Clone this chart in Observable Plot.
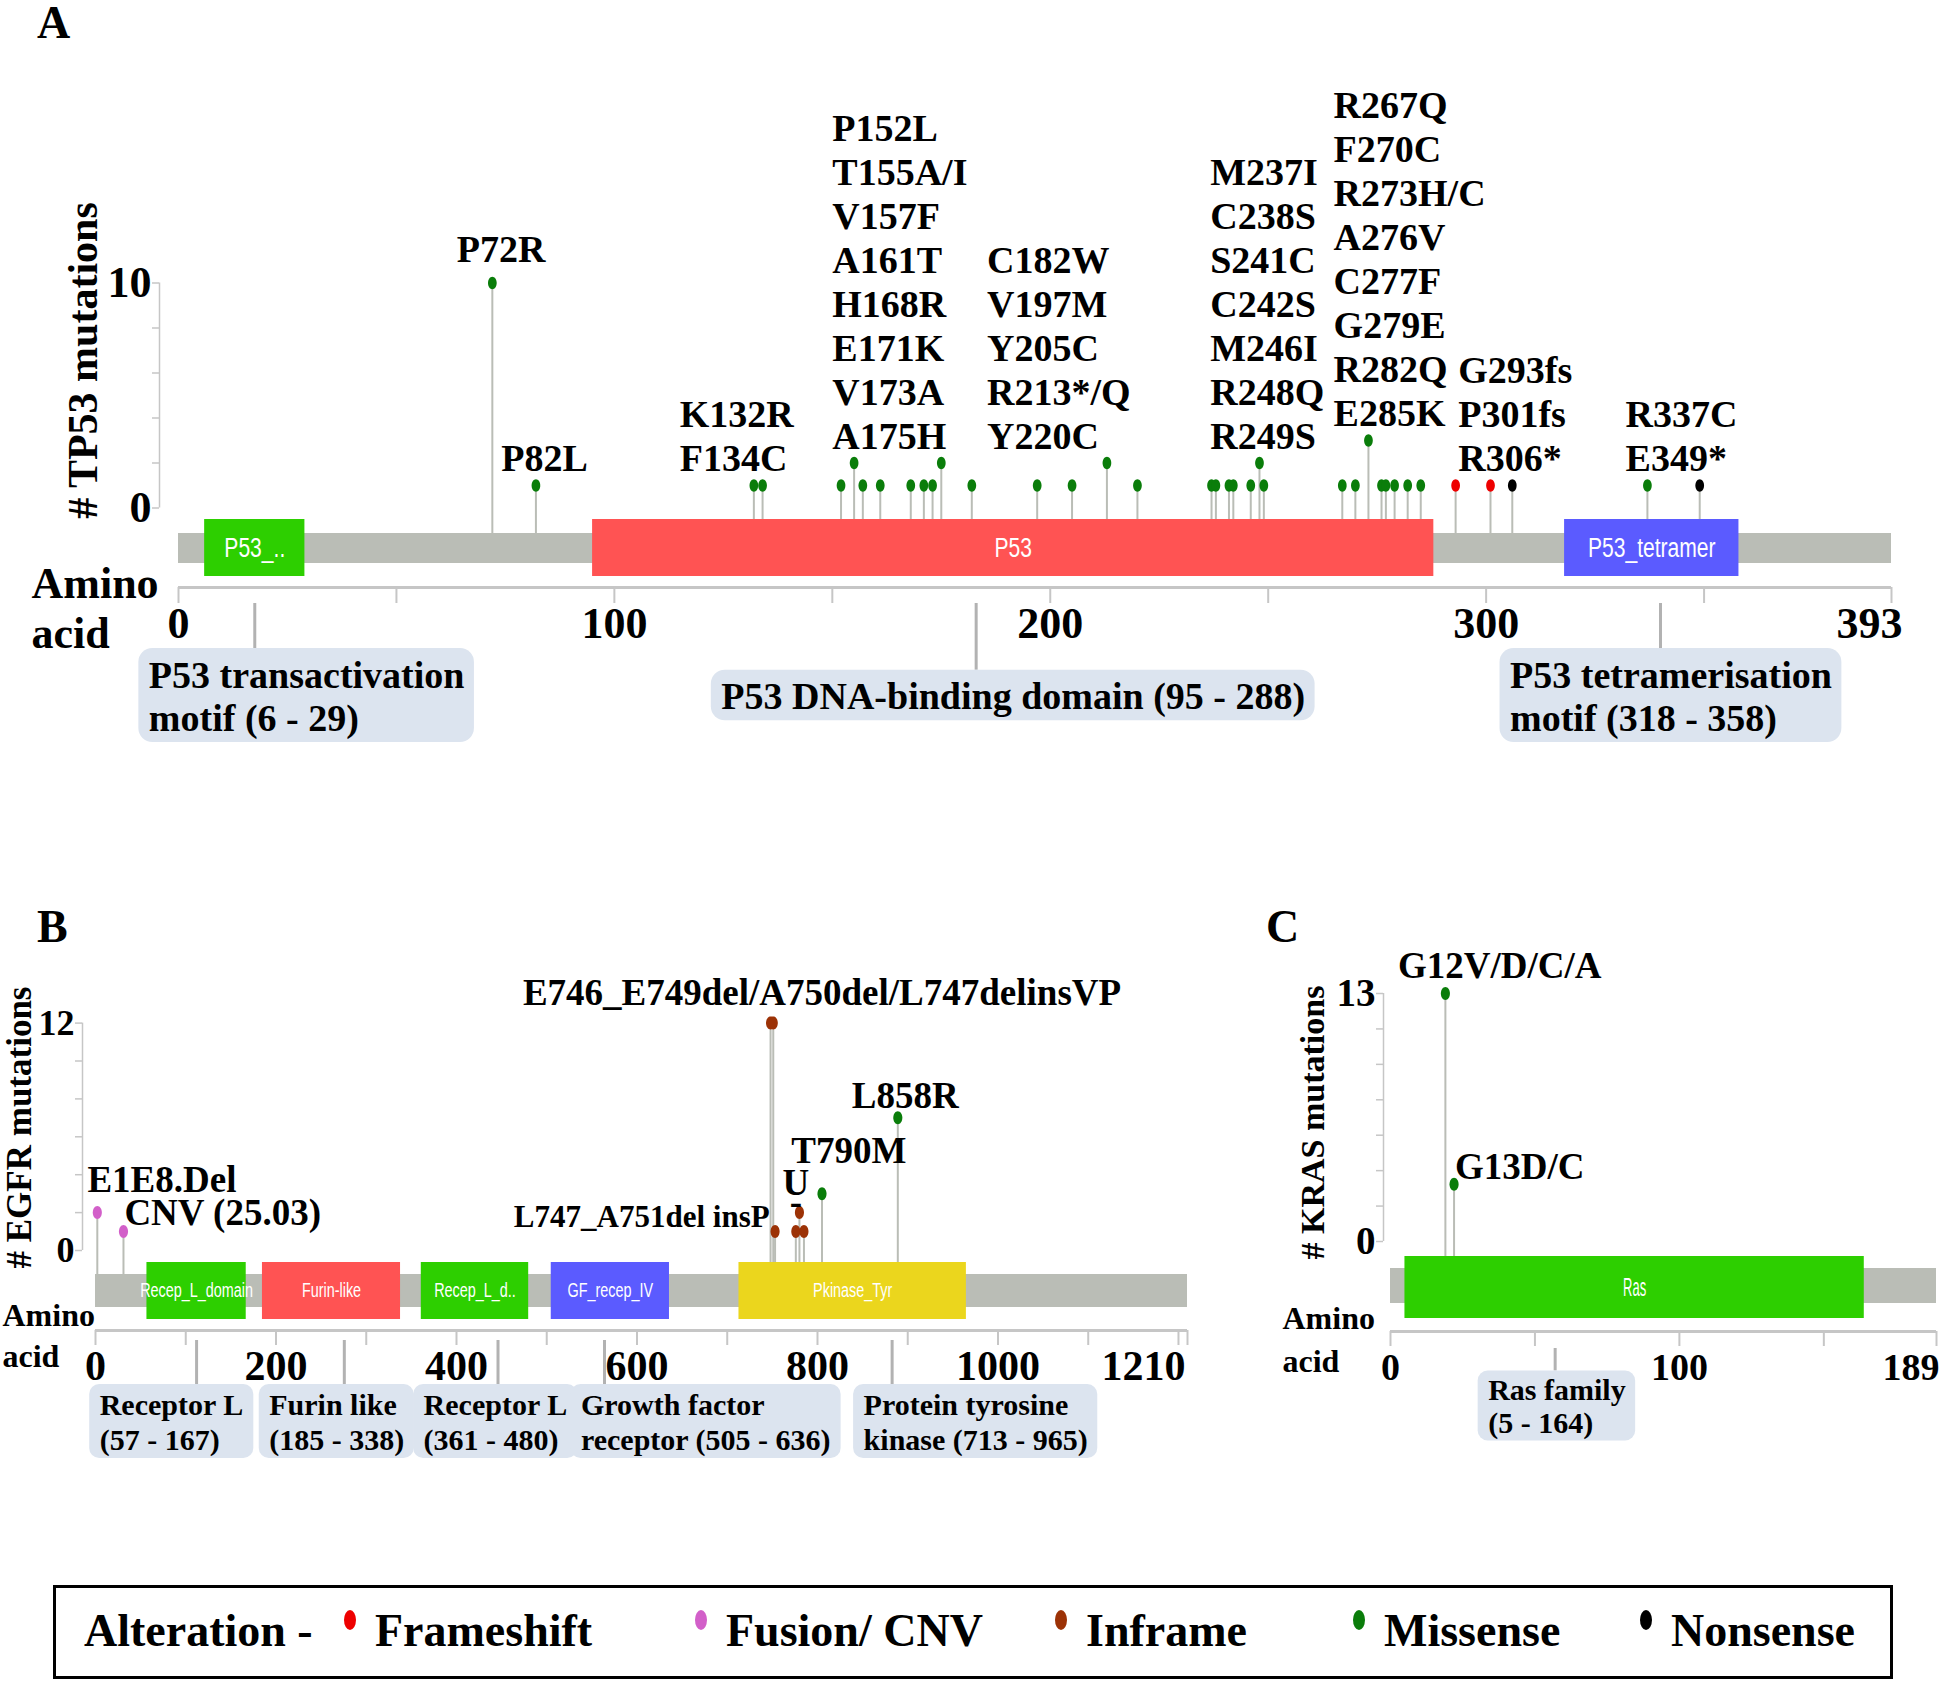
<!DOCTYPE html>
<html><head><meta charset="utf-8">
<script src="https://cdn.jsdelivr.net/npm/d3@7"></script>
<script src="https://cdn.jsdelivr.net/npm/@observablehq/plot@0.6"></script>
<style>
html,body{margin:0;padding:0;background:#fff;}
#root{position:relative;width:1946px;height:1683px;overflow:hidden;background:#fff;
  font-family:"Liberation Serif","Times New Roman",serif;font-weight:bold;color:#000;}
.panel{position:absolute;}
.letter{position:absolute;font-size:46px;line-height:46px;}
#legend{position:absolute;left:53px;top:1585px;width:1840px;height:94px;box-sizing:border-box;border:3px solid #000;}
#legend span{position:absolute;white-space:nowrap;font-size:46px;line-height:46px;}
#legend i{position:absolute;width:12px;height:20px;border-radius:50%;}
</style>
</head><body><div id="root"></div>
<script>
// ---------------- DATA ----------------
const alterationTypes = ["Frameshift", "Fusion/ CNV", "Inframe", "Missense", "Nonsense"];

// TP53 (393 aa)
const tp53Length = 393;
const tp53Domains = [
  {name: "P53_..", start: 6, end: 29},
  {name: "P53", start: 95, end: 288},
  {name: "P53_tetramer", start: 318, end: 358}
];
const tp53Mutations = [
  {pos: 72, count: 10, type: "Missense"}, {pos: 82, count: 1, type: "Missense"},
  {pos: 132, count: 1, type: "Missense"}, {pos: 134, count: 1, type: "Missense"},
  {pos: 152, count: 1, type: "Missense"}, {pos: 155, count: 2, type: "Missense"},
  {pos: 157, count: 1, type: "Missense"}, {pos: 161, count: 1, type: "Missense"},
  {pos: 168, count: 1, type: "Missense"}, {pos: 171, count: 1, type: "Missense"},
  {pos: 173, count: 1, type: "Missense"}, {pos: 175, count: 2, type: "Missense"},
  {pos: 182, count: 1, type: "Missense"}, {pos: 197, count: 1, type: "Missense"},
  {pos: 205, count: 1, type: "Missense"}, {pos: 213, count: 2, type: "Missense"},
  {pos: 220, count: 1, type: "Missense"}, {pos: 237, count: 1, type: "Missense"},
  {pos: 238, count: 1, type: "Missense"}, {pos: 241, count: 1, type: "Missense"},
  {pos: 242, count: 1, type: "Missense"}, {pos: 246, count: 1, type: "Missense"},
  {pos: 248, count: 2, type: "Missense"}, {pos: 249, count: 1, type: "Missense"},
  {pos: 267, count: 1, type: "Missense"}, {pos: 270, count: 1, type: "Missense"},
  {pos: 273, count: 3, type: "Missense"}, {pos: 276, count: 1, type: "Missense"},
  {pos: 277, count: 1, type: "Missense"}, {pos: 279, count: 1, type: "Missense"},
  {pos: 282, count: 1, type: "Missense"}, {pos: 285, count: 1, type: "Missense"},
  {pos: 293, count: 1, type: "Frameshift"}, {pos: 301, count: 1, type: "Frameshift"},
  {pos: 306, count: 1, type: "Nonsense"}, {pos: 337, count: 1, type: "Missense"},
  {pos: 349, count: 1, type: "Nonsense"}
];
const tp53Labels = [
  {lines: ["P72R"], at: 74, anchor: "middle", span: [72, 72]},
  {lines: ["P82L"], at: 84, anchor: "middle", span: [82, 82]},
  {lines: ["K132R", "F134C"], at: 115, anchor: "start", span: [132, 134]},
  {lines: ["P152L", "T155A/I", "V157F", "A161T", "H168R", "E171K", "V173A", "A175H"], at: 150, anchor: "start", span: [152, 175]},
  {lines: ["C182W", "V197M", "Y205C", "R213*/Q", "Y220C"], at: 185.5, anchor: "start", span: [182, 220]},
  {lines: ["M237I", "C238S", "S241C", "C242S", "M246I", "R248Q", "R249S"], at: 236.7, anchor: "start", span: [237, 249]},
  {lines: ["R267Q", "F270C", "R273H/C", "A276V", "C277F", "G279E", "R282Q", "E285K"], at: 265, anchor: "start", span: [267, 285]},
  {lines: ["G293fs", "P301fs", "R306*"], at: 293.6, anchor: "start", span: [293, 306]},
  {lines: ["R337C", "E349*"], at: 332, anchor: "start", span: [337, 349]}
];
const tp53Annotations = [
  {lines: ["P53 transactivation", "motif (6 - 29)"], center: 29.4, link: 17.5},
  {lines: ["P53 DNA-binding domain (95 - 288)"], center: 191.5, link: 183},
  {lines: ["P53 tetramerisation", "motif (318 - 358)"], center: 342.4, link: 340}
];
const tp53XLabels = [0, 100, 200, 300, 393];
const tp53XTicks = [0, 50, 100, 150, 200, 250, 300, 350, 393];
const tp53YTicks = [0, 2, 4, 6, 8, 10];

// EGFR (1210 aa)
const egfrLength = 1210;
const egfrDomains = [
  {name: "Recep_L_domain", start: 57, end: 167},
  {name: "Furin-like", start: 185, end: 338},
  {name: "Recep_L_d..", start: 361, end: 480},
  {name: "GF_recep_IV", start: 505, end: 636},
  {name: "Pkinase_Tyr", start: 713, end: 965}
];
const egfrMutations = [
  {pos: 2, count: 2, type: "Fusion/ CNV"}, {pos: 31, count: 1, type: "Fusion/ CNV"},
  {pos: 748, count: 12, type: "Inframe"}, {pos: 751, count: 12, type: "Inframe"},
  {pos: 753, count: 1, type: "Inframe"}, {pos: 776, count: 1, type: "Inframe"},
  {pos: 780, count: 2, type: "Inframe"}, {pos: 785, count: 1, type: "Inframe"},
  {pos: 805, count: 3, type: "Missense"}, {pos: 889, count: 7, type: "Missense"}
];
const egfrLabels = [
  {lines: ["E1E8.Del"], at: -9, anchor: "start", span: [2, 2]},
  {lines: ["CNV (25.03)"], at: 32, anchor: "start", span: [31, 31]},
  {lines: ["E746_E749del/A750del/L747delinsVP"], at: 805, anchor: "middle", span: [748, 751]},
  {lines: ["L747_A751del insP"], at: 747, anchor: "end", span: [753, 753]},
  {lines: ["U"], at: 776, anchor: "middle", span: [776, 785]},
  {lines: ["-"], at: 776, anchor: "middle", span: [776, 785]},
  {lines: ["T790M"], at: 771, anchor: "start", span: [805, 805]},
  {lines: ["L858R"], at: 838, anchor: "start", span: [889, 889]}
];
const egfrAnnotations = [
  {lines: ["Receptor L", "(57 - 167)"], center: 84.5, link: 112},
  {lines: ["Furin like", "(185 - 338)"], center: 267.3, link: 275.7},
  {lines: ["Receptor L", "(361 - 480)"], center: 443.4, link: 446},
  {lines: ["Growth factor", "receptor (505 - 636)"], center: 676.5, link: 564},
  {lines: ["Protein tyrosine", "kinase (713 - 965)"], center: 975.3, link: 882.7}
];
const egfrXLabels = [0, 200, 400, 600, 800, 1000, 1210];
const egfrXTicks = [0, 100, 200, 300, 400, 500, 600, 700, 800, 900, 1000, 1100, 1200, 1210];
const egfrYTicks = [0, 2, 4, 6, 8, 10, 12];

// KRAS (189 aa)
const krasLength = 189;
const krasDomains = [{name: "Ras", start: 5, end: 164}];
const krasMutations = [
  {pos: 19, count: 13, type: "Missense"}, {pos: 22, count: 3, type: "Missense"}
];
const krasLabels = [
  {lines: ["G12V/D/C/A"], at: 2.6, anchor: "start", span: [19, 19]},
  {lines: ["G13D/C"], at: 22.3, anchor: "start", span: [22, 22]}
];
const krasAnnotations = [{lines: ["Ras family", "(5 - 164)"], center: 57.6, link: 57}];
const krasXLabels = [0, 100, 189];
const krasXTicks = [0, 50, 100, 150, 189];
const krasYTicks = [0, 13 / 7, 26 / 7, 39 / 7, 52 / 7, 65 / 7, 78 / 7, 13];

// ---------------- STYLES ----------------
const typeColor = {"Frameshift": "#ee0000", "Fusion/ CNV": "#d25fc9", "Inframe": "#9c3206", "Missense": "#0a7d0a", "Nonsense": "#000000"};
const domainFill = {
  "P53_..": "#2dcf00", "P53": "#ff5353", "P53_tetramer": "#5b5bff",
  "Recep_L_domain": "#2dcf00", "Furin-like": "#ff5353", "Recep_L_d..": "#2dcf00",
  "GF_recep_IV": "#5b5bff", "Pkinase_Tyr": "#ebd61d", "Ras": "#2dcf00"
};
const SERIF = "Liberation Serif, Times New Roman, serif";
const SANS = "Liberation Sans, Arial, sans-serif";
const GRAY = "#babdb6";
const AXIS = "#c6c6c6";

const ellipse = {
  draw(ctx, size) {
    const ry = Math.sqrt(size / Math.PI), rx = ry * 0.7, k = 0.5523;
    ctx.moveTo(rx, 0);
    ctx.bezierCurveTo(rx, ry * k, rx * k, ry, 0, ry);
    ctx.bezierCurveTo(-rx * k, ry, -rx, ry * k, -rx, 0);
    ctx.bezierCurveTo(-rx, -ry * k, -rx * k, -ry, 0, -ry);
    ctx.bezierCurveTo(rx * k, -ry, rx, -ry * k, rx, 0);
    ctx.closePath();
  }
};
const measureCtx = document.createElement("canvas").getContext("2d");

// ---------------- PANEL ----------------
function drawPanel(P) {
  const xr = P.xRange.map(v => v - P.left);
  const y0 = P.y0 - P.top, yTop = P.yTop - P.top;
  const xs = d3.scaleLinear([0, P.len], xr);
  const ys = d3.scaleLinear([0, P.yMax], [y0, yTop]);
  const X = gx => xs.invert(gx - P.left);      // global px -> aa
  const Yg = gy => ys.invert(gy - P.top);      // global px -> count
  const Yo = off => ys.invert(y0 + off);       // offset below zero -> count
  const T = (extra) => ({fontFamily: SERIF, fontWeight: "bold", fill: "#000", ...extra});
  const marks = [];

  // protein backbone, stems, domains
  marks.push(Plot.rect([0], {x1: 0, x2: P.len, y1: Yo(P.gray[0]), y2: Yo(P.gray[1]), fill: GRAY}));
  marks.push(Plot.ruleX(P.muts, {x: "pos", y1: Yo(P.gray[0]), y2: "count", stroke: GRAY, strokeWidth: 2}));
  marks.push(Plot.rect(P.domains, {x1: "start", x2: "end", y1: Yo(P.dom[0]), y2: Yo(P.dom[1]), fill: d => domainFill[d.name]}));
  marks.push(Plot.text(P.domains, {x: d => (d.start + d.end) / 2, y: Yo((P.dom[0] + P.dom[1]) / 2), text: "name",
    fill: "white", fontSize: P.domFont, fontFamily: SANS, fontWeight: "normal", ariaDescription: "domain-label"}));
  marks.push(Plot.dot(P.muts, {x: "pos", y: "count", fill: d => typeColor[d.type], r: P.dotR, symbol: ellipse}));

  // y axis
  marks.push(Plot.ruleX([X(P.yAxisX)], {y1: 0, y2: P.yMax, stroke: AXIS, strokeWidth: 1.5}));
  marks.push(Plot.ruleY(P.yTicks, {y: d => d, x1: X(P.yAxisX - 7), x2: X(P.yAxisX), stroke: AXIS, strokeWidth: 1.5}));
  marks.push(Plot.text([0, P.yMax], T({x: X(P.yAxisX - 8), y: d => d, text: d => String(d), textAnchor: "end", fontSize: P.yLabFont})));
  marks.push(Plot.text([P.yTitle], T({x: X(P.yTitlePos[0]), y: Yg(P.yTitlePos[1]), text: d => d, rotate: -90, fontSize: P.yTitleFont})));

  // x axis
  marks.push(Plot.ruleY([Yo(P.axisOff)], {y: d => d, x1: 0, x2: P.len, stroke: AXIS, strokeWidth: 3}));
  marks.push(Plot.ruleX(P.xTicks, {x: d => d, y1: Yo(P.axisOff), y2: Yo(P.axisOff + P.tickLen), stroke: AXIS, strokeWidth: 2}));
  marks.push(Plot.text(P.xLabels.slice(0, -1), T({x: d => d, y: Yo(P.labOff), text: d => String(d), fontSize: P.xLabFont})));
  marks.push(Plot.text(P.xLabels.slice(-1), T({x: d => d, y: Yo(P.labOff), text: d => String(d), textAnchor: "end", dx: P.lastDx, fontSize: P.xLabFont})));
  marks.push(Plot.text([{t: "Amino", y: P.amino[1]}, {t: "acid", y: P.amino[2]}],
    T({x: X(P.amino[0]), y: d => Yg(d.y), text: "t", textAnchor: "start", fontSize: P.aminoFont})));

  // mutation labels
  for (const L of P.labels) {
    const inSpan = P.muts.filter(m => m.pos >= L.span[0] && m.pos <= L.span[1]);
    const top = d3.max(inSpan, m => m.count);
    const key = L.lines[0];
    const fs = (P.labFont && P.labFont[key]) || P.mutFont;
    const gap = (P.gaps && P.gaps[key] !== undefined) ? P.gaps[key] : P.gap;
    const base = ys(top) - gap + 0.33 * fs;
    marks.push(Plot.text([L.lines.join("\n")], T({x: L.at, y: ys.invert(base), text: d => d,
      textAnchor: L.anchor, lineAnchor: "bottom", lineHeight: P.mutLH / fs, fontSize: fs})));
  }

  // annotation boxes
  measureCtx.font = `bold ${P.annFont}px "Liberation Serif"`;
  const boxes = P.ann.map(A => {
    const w = d3.max(A.lines, l => measureCtx.measureText(l).width) + 2 * P.annPad;
    const h = A.lines.length * P.annLH + 2 * P.annPadV;
    const cx = xs(A.center), cy = y0 + P.annCenter;
    return {x1: xs.invert(cx - w / 2), x2: xs.invert(cx + w / 2), y1: ys.invert(cy - h / 2), y2: ys.invert(cy + h / 2),
      tx: xs.invert(cx - w / 2 + P.annPad), ty: ys.invert(cy), text: A.lines.join("\n"), link: A.link};
  });
  marks.push(Plot.ruleX(boxes, {x: "link", y1: Yo(P.axisOff + P.connStart), y2: "y1", stroke: "#b2b2b2", strokeWidth: 3}));
  marks.push(Plot.rect(boxes, {x1: "x1", x2: "x2", y1: "y1", y2: "y2", fill: "#dce4ef", rx: P.annR}));
  marks.push(Plot.text(boxes, T({x: "tx", y: "ty", text: "text", textAnchor: "start", lineAnchor: "middle",
    lineHeight: P.annLH / P.annFont, fontSize: P.annFont})));

  const svg = Plot.plot({
    width: P.width, height: P.height, margin: 0,
    x: {domain: [0, P.len], range: xr, axis: null},
    y: {domain: [0, P.yMax], range: [y0, yTop], axis: null},
    color: {type: "identity"},
    style: {background: "transparent", overflow: "visible", maxWidth: "none"},
    marks
  });
  const div = document.createElement("div");
  div.className = "panel";
  div.style.left = P.left + "px"; div.style.top = P.top + "px";
  div.style.width = P.width + "px"; div.style.height = P.height + "px";
  div.appendChild(svg);
  document.getElementById("root").appendChild(div);
  const domTexts = svg.querySelectorAll('g[aria-description="domain-label"] text, g[fill="white"] text');
  domTexts.forEach(t => {
    const len = t.getComputedTextLength();
    if (len > 0) {
      t.setAttribute("textLength", (len * P.domSquash).toFixed(1));
      t.setAttribute("lengthAdjust", "spacingAndGlyphs");
    }
  });
}

drawPanel({
  left: 0, top: 0, width: 1946, height: 790,
  len: tp53Length, domains: tp53Domains, muts: tp53Mutations, labels: tp53Labels, ann: tp53Annotations,
  xRange: [178, 1891], y0: 507.5, yTop: 282.5, yMax: 10, yTicks: tp53YTicks,
  xLabels: tp53XLabels, xTicks: tp53XTicks,
  gray: [25.5, 55.5], dom: [11.5, 68.5], axisOff: 79.5, tickLen: 16, labOff: 115.5, xLabFont: 44, lastDx: 11,
  yAxisX: 159, yLabFont: 44, yTitle: "# TP53 mutations", yTitlePos: [83, 360], yTitleFont: 42,
  amino: [31, 583, 633], aminoFont: 44,
  domFont: 27, domSquash: 0.78, dotR: 6.2,
  mutFont: 38, mutLH: 44, gap: 27, gaps: {"P72R": 34},
  annFont: 38, annLH: 43.5, annPad: 10, annPadV: 3.5, annCenter: 187.5, annR: 14, connStart: 16
});

drawPanel({
  left: 0, top: 860, width: 1240, height: 620,
  len: egfrLength, domains: egfrDomains, muts: egfrMutations, labels: egfrLabels, ann: egfrAnnotations,
  xRange: [95, 1187], y0: 1250, yTop: 1022.6, yMax: 12, yTicks: egfrYTicks,
  xLabels: egfrXLabels, xTicks: egfrXTicks,
  gray: [24, 57], dom: [12, 69], axisOff: 80, tickLen: 15, labOff: 116, xLabFont: 42, lastDx: -2,
  yAxisX: 82, yLabFont: 36, yTitle: "# EGFR mutations", yTitlePos: [19, 1127], yTitleFont: 35,
  amino: [2, 1315, 1356], aminoFont: 32,
  domFont: 20, domSquash: 0.72, dotR: 6.5,
  mutFont: 37, mutLH: 43, gap: 28,
  gaps: {"E1E8.Del": 33, "CNV (25.03)": 19, "E746_E749del/A750del/L747delinsVP": 30, "L747_A751del insP": 15,
         "U": 30, "-": 11, "T790M": 43, "L858R": 22.5},
  labFont: {"L747_A751del insP": 31},
  annFont: 30, annLH: 35, annPad: 10, annPadV: 2, annCenter: 171, annR: 10, connStart: 10
});

drawPanel({
  left: 1240, top: 860, width: 706, height: 620,
  len: krasLength, domains: krasDomains, muts: krasMutations, labels: krasLabels, ann: krasAnnotations,
  xRange: [1390, 1936], y0: 1241, yTop: 993, yMax: 13, yTicks: krasYTicks,
  xLabels: krasXLabels, xTicks: krasXTicks,
  gray: [27, 62], dom: [15, 77], axisOff: 90, tickLen: 15, labOff: 126, xLabFont: 38, lastDx: 3,
  yAxisX: 1383, yLabFont: 39, yTitle: "# KRAS mutations", yTitlePos: [1313, 1122], yTitleFont: 34,
  amino: [1282, 1318, 1361], aminoFont: 32,
  domFont: 26, domSquash: 0.5, dotR: 6.5,
  mutFont: 37, mutLH: 43, gap: 28, gaps: {"G12V/D/C/A": 27.5, "G13D/C": 17},
  annFont: 30, annLH: 33, annPad: 10, annPadV: 2, annCenter: 164.5, annR: 10, connStart: 17
});

// panel letters
const root = document.getElementById("root");
[["A", 37, 0], ["B", 37, 904], ["C", 1266, 904]].forEach(([t, x, y]) => {
  const d = document.createElement("div");
  d.className = "letter"; d.textContent = t; d.style.left = x + "px"; d.style.top = y + "px";
  root.appendChild(d);
});

// legend
const legendDotX = [350, 701, 1061, 1359, 1646];
const legend = document.createElement("div");
legend.id = "legend";
const lead = document.createElement("span");
lead.textContent = "Alteration -"; lead.style.left = (84 - 56) + "px"; lead.style.top = "20px";
legend.appendChild(lead);
alterationTypes.forEach((t, i) => {
  const dot = document.createElement("i");
  dot.style.background = typeColor[t];
  dot.style.left = (legendDotX[i] - 6 - 56) + "px"; dot.style.top = "22px";
  legend.appendChild(dot);
  const s = document.createElement("span");
  s.textContent = t; s.style.left = (legendDotX[i] + 25 - 56) + "px"; s.style.top = "20px";
  legend.appendChild(s);
});
root.appendChild(legend);
</script>
</body></html>
